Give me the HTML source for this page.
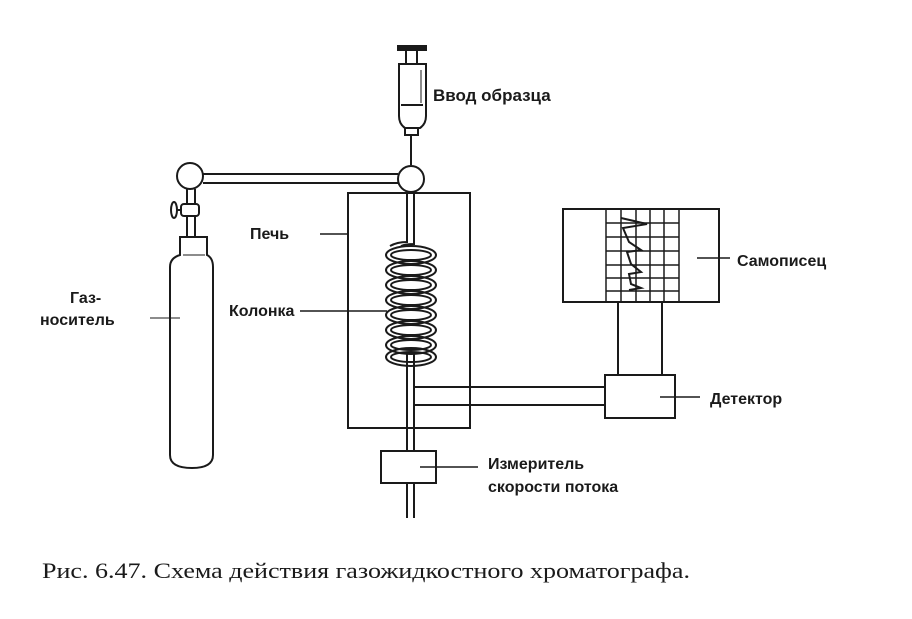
<!DOCTYPE html>
<html><head><meta charset="utf-8"><style>
html,body{margin:0;padding:0;background:#fff}
svg{display:block}
text{font-family:"Liberation Sans","DejaVu Sans",sans-serif;font-weight:bold;fill:#1a1a1a}
</style></head><body>
<svg width="912" height="619" viewBox="0 0 912 619" xmlns="http://www.w3.org/2000/svg">
<g stroke="#1a1a1a" stroke-width="2" fill="none">
<rect x="398" y="46" width="28" height="4" fill="#1a1a1a"/>
<rect x="406" y="50" width="11" height="14"/>
<path d="M399 64 h27 v52 q0 8 -6 12 h-15 q-6 -4 -6 -12 z"/>
<line x1="401" y1="105" x2="423" y2="105"/>
<line x1="421" y1="70" x2="421" y2="103" stroke-width="1"/>
<rect x="405" y="128" width="13" height="7"/>
<line x1="411" y1="135" x2="411" y2="165"/>
<circle cx="190" cy="176" r="13"/>
<circle cx="411" cy="179" r="13"/>
<line x1="203" y1="174" x2="398" y2="174"/>
<line x1="203" y1="183" x2="398" y2="183"/>
<line x1="187" y1="189" x2="187" y2="237"/>
<line x1="195" y1="189" x2="195" y2="237"/>
<rect x="181" y="204" width="18" height="12" rx="3" fill="#fff"/>
<ellipse cx="174" cy="210" rx="3" ry="8"/>
<line x1="177" y1="210" x2="181" y2="210"/>
<path d="M180 237 h27 v18 q6 3 6 12 v188 q0 13 -21 13 q-22 0 -22 -13 v-188 q0 -9 10 -12 z"/>
<line x1="183" y1="255" x2="205" y2="255" stroke-width="1"/>
<line x1="150" y1="318" x2="180" y2="318" stroke-width="1"/>
<rect x="348" y="193" width="122" height="235"/>
<line x1="320" y1="234" x2="348" y2="234" stroke-width="1.5"/>
<path d="M407 192 v50 q-10 0 -17 4"/>
<path d="M414 192 v52 q-8 0 -13 2"/>
<g stroke-width="2">
<ellipse cx="411" cy="255" rx="25" ry="9"/>
<ellipse cx="411" cy="255" rx="20" ry="5"/>
<ellipse cx="411" cy="270" rx="25" ry="9"/>
<ellipse cx="411" cy="270" rx="20" ry="5"/>
<ellipse cx="411" cy="285" rx="25" ry="9"/>
<ellipse cx="411" cy="285" rx="20" ry="5"/>
<ellipse cx="411" cy="300" rx="25" ry="9"/>
<ellipse cx="411" cy="300" rx="20" ry="5"/>
<ellipse cx="411" cy="315" rx="25" ry="9"/>
<ellipse cx="411" cy="315" rx="20" ry="5"/>
<ellipse cx="411" cy="330" rx="25" ry="9"/>
<ellipse cx="411" cy="330" rx="20" ry="5"/>
<ellipse cx="411" cy="345" rx="25" ry="9"/>
<ellipse cx="411" cy="345" rx="20" ry="5"/>
<ellipse cx="411" cy="357" rx="25" ry="9"/>
<ellipse cx="411" cy="357" rx="20" ry="5"/>
</g>
<line x1="300" y1="311" x2="387" y2="311" stroke-width="1.5"/>
<line x1="407" y1="352" x2="407" y2="450"/>
<line x1="414" y1="352" x2="414" y2="450"/>
<line x1="407" y1="483" x2="407" y2="518"/>
<line x1="414" y1="483" x2="414" y2="518"/>
<line x1="414" y1="387" x2="605" y2="387"/>
<line x1="414" y1="405" x2="605" y2="405"/>
<rect x="381" y="451" width="55" height="32"/>
<line x1="420" y1="467" x2="478" y2="467" stroke-width="1.5"/>
<rect x="605" y="375" width="70" height="43"/>
<line x1="660" y1="397" x2="700" y2="397" stroke-width="1.5"/>
<line x1="618" y1="302" x2="618" y2="375"/>
<line x1="662" y1="302" x2="662" y2="375"/>
<rect x="563" y="209" width="156" height="93"/>
<g stroke-width="1.5">
<line x1="606" y1="209" x2="606" y2="302"/>
<line x1="621" y1="209" x2="621" y2="302"/>
<line x1="636" y1="209" x2="636" y2="302"/>
<line x1="650" y1="209" x2="650" y2="302"/>
<line x1="664" y1="209" x2="664" y2="302"/>
<line x1="679" y1="209" x2="679" y2="302"/>
<line x1="606" y1="223" x2="679" y2="223"/>
<line x1="606" y1="237" x2="679" y2="237"/>
<line x1="606" y1="251" x2="679" y2="251"/>
<line x1="606" y1="265" x2="679" y2="265"/>
<line x1="606" y1="278" x2="679" y2="278"/>
<line x1="606" y1="291" x2="679" y2="291"/>
</g>
<path d="M621 218 l26 6 l-24 4 l6 14 l12 8 l-14 2 l4 12 l10 8 l-12 2 l2 10 l10 4 l-12 2" stroke-width="2"/>
<line x1="697" y1="258" x2="730" y2="258" stroke-width="1.5"/>
</g>
<text x="433" y="101" font-size="17">Ввод образца</text>
<text x="250" y="239" font-size="16">Печь</text>
<text x="70" y="303" font-size="16">Газ-</text>
<text x="40" y="325" font-size="16">носитель</text>
<text x="229" y="316" font-size="16">Колонка</text>
<text x="737" y="266" font-size="16">Самописец</text>
<text x="710" y="404" font-size="16">Детектор</text>
<text x="488" y="469" font-size="16">Измеритель</text>
<text x="488" y="492" font-size="16">скорости потока</text>
<text x="42" y="578" font-size="22" textLength="648" lengthAdjust="spacingAndGlyphs" style="font-family:'Liberation Serif',serif;font-weight:normal">Рис. 6.47. Схема действия газожидкостного хроматографа.</text>
</svg>
</body></html>
